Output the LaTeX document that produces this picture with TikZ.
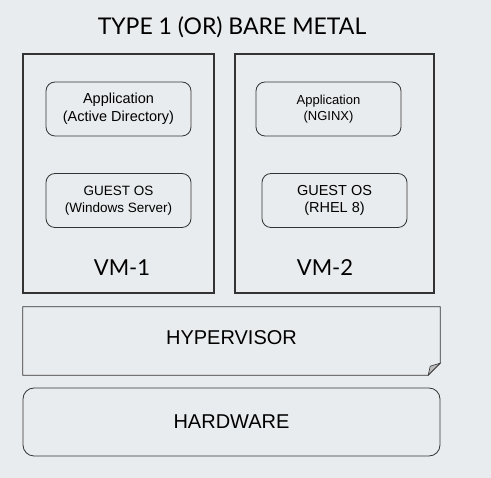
\documentclass[tikz,border=0pt]{standalone}
\usepackage{fontspec}
\setmainfont{Liberation Sans}
\newfontfamily\latofont{Lato}
\usetikzlibrary{positioning,shapes}
\definecolor{bgcol}{HTML}{E9ECEE}
\definecolor{linecol}{HTML}{333333}
\definecolor{foldcol}{HTML}{BBBBBB}

\begin{document}
\begin{tikzpicture}[x=1pt,y=-1pt,
    vmbox/.style={draw=linecol, line width=1.2pt, minimum width=191pt, minimum height=239pt, inner sep=0pt},
    layerbox/.style={draw=linecol, line width=0.8pt, rounded corners=9pt, minimum width=145pt, minimum height=54pt, align=center, inner sep=0pt},
    basebox/.style={minimum width=417pt, minimum height=68pt, inner sep=0pt, font=\fontsize{20}{24}\selectfont}]
    % background
    \fill[bgcol] (0,0) rectangle (491,478);
    \useasboundingbox (0,0) rectangle (491,478);
    % title
    \node[font=\latofont\fontsize{23}{27}\selectfont] (title) at (232,27) {TYPE 1 (OR) BARE METAL};
    % VM-1
    \node[vmbox] (VM1) at (118.5,173.5) {};
    \node[vmbox, minimum width=199pt] (VM2) at (334.5,173.5) {};
    \node[layerbox, font=\fontsize{14.5}{18}\selectfont] (App1) at (118.5,109) {Application\\(Active Directory)};
    \node[layerbox, font=\fontsize{13.5}{16.5}\selectfont] (OS1) at (118.5,200.5) {GUEST OS\\(Windows Server)};
    \node[font=\latofont\fontsize{22}{26}\selectfont] (L1) at (122,268) {VM-1};
    % VM-2
    \node[layerbox, font=\fontsize{13}{16}\selectfont] (App2) at (328.5,109) {Application\\(NGINX)};
    \node[layerbox, font=\fontsize{14.5}{17}\selectfont] (OS2) at (334.5,200.5) {GUEST OS\\(RHEL 8)};
    \node[font=\latofont\fontsize{22}{26}\selectfont] (L2) at (325,268) {VM-2};
    % HYPERVISOR <-> HARDWARE
    \node[basebox] (HV) at (231.5,341) {\raisebox{7pt}{HYPERVISOR}};
    \draw[linecol, line width=0.8pt] (HV.north west) -- (HV.north east) -- ([yshift=12pt]HV.south east)
        -- ([xshift=-12pt]HV.south east) -- (HV.south west) -- cycle;
    \filldraw[fill=foldcol, draw=linecol, line width=0.6pt] ([xshift=-12pt]HV.south east) -- ([xshift=-10pt,yshift=9pt]HV.south east)
        -- ([yshift=12pt]HV.south east) -- cycle;
    \node[basebox, draw=linecol, line width=0.8pt, rounded corners=11pt] (HW) at (231.5,422) {\raisebox{-4pt}{HARDWARE}};
\end{tikzpicture}
\end{document}
